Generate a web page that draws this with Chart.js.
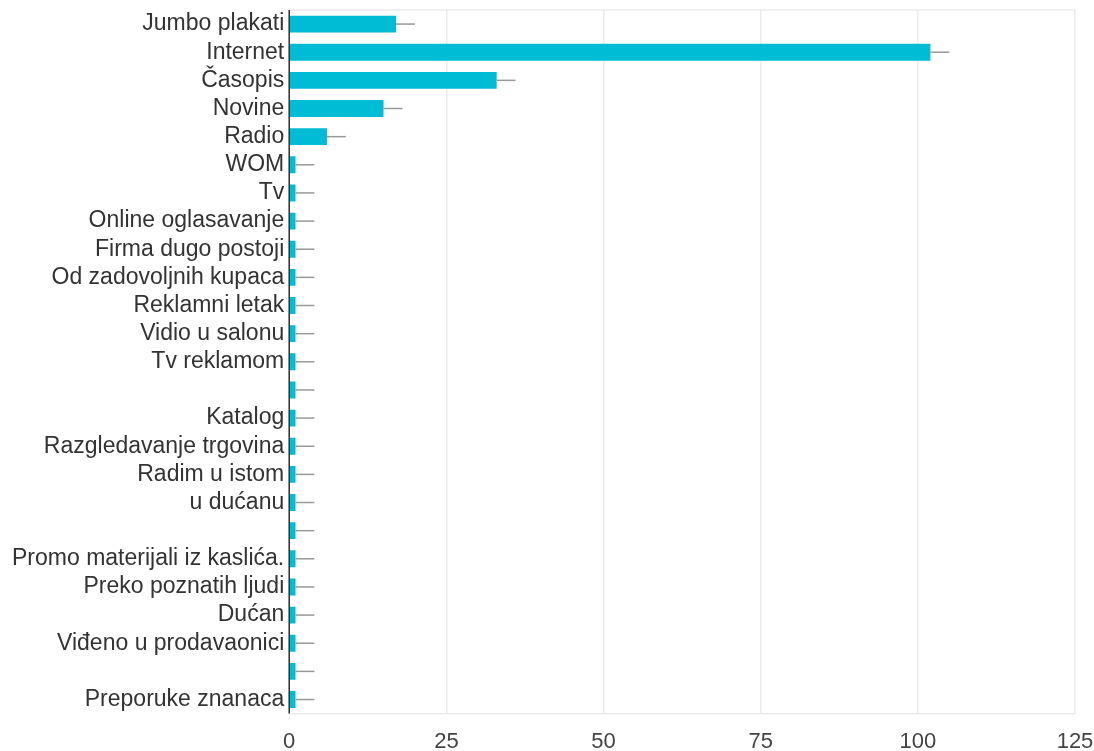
<!DOCTYPE html>
<html><head><meta charset="utf-8">
<script src="https://cdn.jsdelivr.net/npm/chart.js@4/dist/chart.umd.min.js"></script>
<style>html,body{margin:0;padding:0;background:#fff}#wrap{width:1094px;height:751px}</style>
</head><body><div id="wrap"><canvas id="c" width="1094" height="751"></canvas></div>
<script>
const categories = ["Jumbo plakati","Internet","Časopis","Novine","Radio","WOM","Tv","Online oglasavanje","Firma dugo postoji","Od zadovoljnih kupaca","Reklamni letak","Vidio u salonu","Tv reklamom","","Katalog","Razgledavanje trgovina","Radim u istom","u dućanu","","Promo materijali iz kaslića.","Preko poznatih ljudi","Dućan","Viđeno u prodavaonici","","Preporuke znanaca"];
const values = [17,102,33,15,6,1,1,1,1,1,1,1,1,1,1,1,1,1,1,1,1,1,1,1,1];
const errors = [3,3,3,3,3,3,3,3,3,3,3,3,3,3,3,3,3,3,3,3,3,3,3,3,3];
const xTicks = [0,25,50,75,100,125];

const errorBars = {
  id:'errorBars',
  afterDatasetsDraw(chart){
    const ctx = chart.ctx, xs = chart.scales.x;
    const meta = chart.getDatasetMeta(0);
    ctx.save();
    ctx.strokeStyle = '#999'; ctx.lineWidth = 1.5;
    meta.data.forEach((bar,i)=>{
      const y = bar.y;
      ctx.beginPath();
      ctx.moveTo(xs.getPixelForValue(values[i]), y);
      ctx.lineTo(xs.getPixelForValue(values[i]+errors[i]), y);
      ctx.stroke();
    });
    const a = chart.chartArea;
    ctx.strokeStyle = '#ebebeb'; ctx.lineWidth = 1.5;
    ctx.beginPath(); ctx.moveTo(a.left, a.top); ctx.lineTo(a.right, a.top); ctx.stroke();
    ctx.strokeStyle = '#333'; ctx.lineWidth = 1.5;
    ctx.beginPath(); ctx.moveTo(a.left, a.top); ctx.lineTo(a.left, a.bottom); ctx.stroke();
    ctx.restore();
  }
};

new Chart(document.getElementById('c'), {
  type:'bar',
  data:{labels:categories, datasets:[{data:values, backgroundColor:'#00bcd4', barPercentage:0.6, categoryPercentage:1.0}]},
  options:{
    indexAxis:'y', responsive:false, animation:false,
    layout:{padding:{top:10,right:19,left:7,bottom:-19}},
    plugins:{legend:{display:false}, tooltip:{enabled:false}},
    scales:{
      x:{min:0,max:125,
        afterBuildTicks(s){ s.ticks = xTicks.map(v=>({value:v})); },
        afterFit(s){ s.paddingLeft = 0; s.paddingRight = 0; },
        grid:{color:'#ebebeb', lineWidth:1.5, drawTicks:false},
        border:{display:true,color:'#ebebeb',width:1.5},
        ticks:{color:'#444', font:{family:'Liberation Sans', size:22}, padding:15}
      },
      y:{grid:{display:false, drawTicks:false},
        afterFit(s){ s.paddingTop = 0; s.paddingBottom = 0; },
        border:{display:false},
        ticks:{color:'#333', autoSkip:false, font:{family:'Liberation Sans', size:23}, padding:5}
      }
    }
  },
  plugins:[errorBars]
});
</script></body></html>
